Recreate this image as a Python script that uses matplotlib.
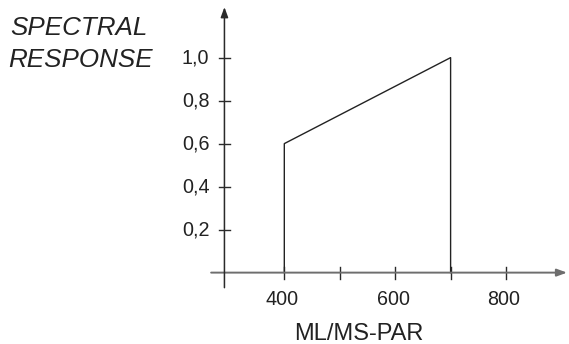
import matplotlib
matplotlib.use("Agg")
import matplotlib.pyplot as plt

plt.rcParams["font.family"] = ["Liberation Sans", "DejaVu Sans"]

# spectral response curve (ML/MS-PAR)
wl = [400, 400, 700, 700]
resp = [0.0, 0.6, 1.0, 0.0]

x_ticks = [400, 500, 600, 700, 800]
x_labels = ["400", "", "600", "", "800"]
y_ticks = [0.2, 0.4, 0.6, 0.8, 1.0]
y_labels = ["0,2", "0,4", "0,6", "0,8", "1,0"]

y_axis_x = 292
px = 0.72  # points per pixel at dpi 100

fig = plt.figure(figsize=(5.69, 3.44), dpi=100)
ax = fig.add_axes([0, 0, 1, 1])
ax.set_xlim(-112.9, 913.6)
ax.set_ylim(-0.332, 1.268)
ax.axis("off")

# axes with arrows
ax.annotate("", xy=(910, 0), xytext=(268, 0),
            arrowprops=dict(arrowstyle="-|>,head_length=0.6,head_width=0.22",
                            color="#6e6e6e", lw=1.4, shrinkA=0, shrinkB=0))
ax.annotate("", xy=(y_axis_x, 1.235), xytext=(y_axis_x, -0.07),
            arrowprops=dict(arrowstyle="-|>,head_length=0.6,head_width=0.22",
                            color="#2a2a2a", lw=1.1, shrinkA=0, shrinkB=0))

# ticks
for t, lab in zip(x_ticks, x_labels):
    ax.plot([t, t], [0.028, -0.029], color="#2a2a2a", lw=1.0)
    if lab:
        ax.annotate(lab, xy=(t, 0), xytext=(-2 * px, -17 * px), textcoords="offset points",
                    ha="center", va="top", fontsize=14.2, color="#222222")
for t, lab in zip(y_ticks, y_labels):
    ax.plot([y_axis_x - 10, y_axis_x + 10], [t, t], color="#2a2a2a", lw=1.0)
    ax.annotate(lab, xy=(y_axis_x, t), xytext=(-15 * px, 0), textcoords="offset points",
                ha="right", va="center", fontsize=14.2, color="#222222")

ax.plot(wl, resp, color="#222222", lw=1.0)

fig.text(359 / 569, 1 - 340 / 344, "ML/MS-PAR", ha="center", va="baseline",
         fontsize=17, color="#222222")
fig.text(10 / 569, 1 - 35 / 344, "SPECTRAL", ha="left", va="baseline",
         fontsize=18.7, style="italic", color="#222222")
fig.text(8 / 569, 1 - 67 / 344, "RESPONSE", ha="left", va="baseline",
         fontsize=18.7, style="italic", color="#222222")

fig.savefig("out.png", dpi=100)
